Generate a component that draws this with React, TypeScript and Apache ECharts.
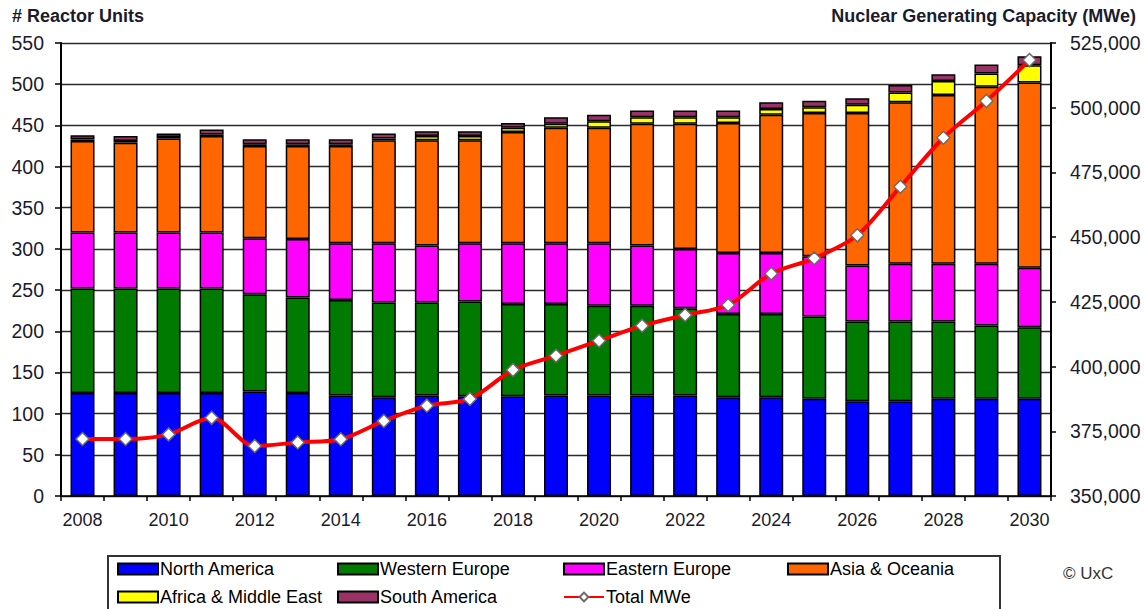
import React, { useEffect, useRef } from "react";
import * as echarts from "echarts";

const years = ["2008","2009","2010","2011","2012","2013","2014","2015","2016","2017","2018","2019","2020","2021","2022","2023","2024","2025","2026","2027","2028","2029","2030"];
const northAmerica = [125,125,125,125,127,125,122,120,122,121,121,122,122,122,122,120,120,118,115,115,118,118,118];
const westernEurope = [127,127,127,127,118,116,116,115,113,115,112,111,109,109,106,101,101,100,97,97,94,89,87];
const easternEurope = [68,68,68,68,68,71,69,72,69,71,74,74,76,73,72,74,74,73,68,70,70,75,72];
const asiaOceania = [111,109,114,117,112,113,118,125,128,125,135,140,140,148,152,158,168,174,185,196,205,215,225];
const africaMiddleEast = [2,2,2,2,2,2,2,2,5,5,5,5,8,8,8,7,7,7,10,12,17,16,21];
const southAmerica = [5,6,4,6,6,6,6,6,6,6,6,8,8,8,8,8,8,8,8,9,8,11,11];
const totalMWe = [372000,372000,373800,380200,369300,370700,371900,379000,384900,387500,398700,404200,410000,415800,419900,423800,435900,441800,450700,469500,488400,502600,518400];

const leftTicks = { min: 0, max: 550, interval: 50 };
const rightTicks = { min: 350000, max: 525000, interval: 25000 };

const FONT = "'Liberation Sans', Arial, sans-serif";
const TXT = "#1b1b2b";

const barSeries = [
  { name: "North America", data: northAmerica, color: "#0000ff" },
  { name: "Western Europe", data: westernEurope, color: "#007a00" },
  { name: "Eastern Europe", data: easternEurope, color: "#ff00ff" },
  { name: "Asia & Oceania", data: asiaOceania, color: "#ff6600" },
  { name: "Africa & Middle East", data: africaMiddleEast, color: "#ffff00" },
  { name: "South America", data: southAmerica, color: "#993366" },
];

const legendSlots: [string, number, number][] = [
  ["North America", 117, 560],
  ["Western Europe", 337, 560],
  ["Eastern Europe", 563, 560],
  ["Asia & Oceania", 787, 560],
  ["Africa & Middle East", 117, 588],
  ["South America", 337, 588],
  ["Total MWe", 563, 588],
];

export default function App() {
  const ref = useRef<HTMLDivElement>(null);
  useEffect(() => {
    if (!ref.current) return;
    const chart = echarts.init(ref.current, null, { renderer: "svg" });
    const option: any = {
      animation: false,
      backgroundColor: "#ffffff",
      textStyle: { fontFamily: FONT },
      grid: { left: 61, right: 94, top: 43, bottom: 113, containLabel: false },
      legend: legendSlots.map(([name, x, y]) => ({
        data: [name],
        left: x,
        top: y,
        padding: 0,
        itemWidth: 40,
        itemHeight: 11,
        itemGap: 4,
        icon: name === "Total MWe" ? undefined : "rect",
        textStyle: { fontSize: 18, color: "#000", fontFamily: FONT, padding: [0, 0, 0, -3] },
        selectedMode: false,
      })),
      xAxis: {
        type: "category",
        data: years,
        boundaryGap: true,
        axisLine: { show: true, lineStyle: { color: "#000", width: 1.5 } },
        axisTick: { show: true, interval: 0, length: 5, lineStyle: { color: "#000", width: 1.5 } },
        axisLabel: { interval: 1, fontSize: 18, color: TXT, margin: 15, fontFamily: FONT },
        splitLine: { show: false },
      },
      yAxis: [
        {
          type: "value",
          position: "left",
          ...leftTicks,
          axisLine: { show: true, lineStyle: { color: "#000", width: 2 } },
          axisTick: { show: true, length: 6, lineStyle: { color: "#000", width: 1.5 } },
          axisLabel: { fontSize: 19.5, color: TXT, margin: 17, fontFamily: FONT },
          splitLine: { show: true, lineStyle: { color: "#2a2a2a", width: 1.3 } },
        },
        {
          type: "value",
          position: "right",
          ...rightTicks,
          axisLine: { show: true, lineStyle: { color: "#000", width: 2 } },
          axisTick: { show: true, length: 5, lineStyle: { color: "#000", width: 1.5 } },
          axisLabel: {
            fontSize: 19.5,
            color: TXT,
            margin: 19,
            fontFamily: FONT,
            formatter: (v: number) => v.toLocaleString("en-US"),
          },
          splitLine: { show: false },
        },
      ],
      series: [
        ...barSeries.map((s) => ({
          name: s.name,
          type: "bar",
          stack: "units",
          data: s.data,
          barWidth: 24,
          itemStyle: { color: s.color, borderColor: "#000", borderWidth: 1.5 },
          emphasis: { disabled: true },
        })),
        {
          name: "Total MWe",
          type: "line",
          yAxisIndex: 1,
          data: totalMWe,
          smooth: 0.3,
          z: 10,
          symbol: "diamond",
          symbolSize: 13,
          lineStyle: { color: "#ff0000", width: 4 },
          itemStyle: { color: "#ffffff", borderColor: "#6a6a6a", borderWidth: 1.5 },
          emphasis: { disabled: true },
        },
      ],
      graphic: [
        {
          type: "text",
          left: 12,
          top: 7,
          style: { text: "# Reactor Units", font: `bold 18px ${FONT}`, fill: TXT },
        },
        {
          type: "text",
          right: 9,
          top: 7,
          style: { text: "Nuclear Generating Capacity (MWe)", font: `bold 18px ${FONT}`, fill: TXT },
        },
        {
          type: "rect",
          shape: { x: 108, y: 556, width: 892, height: 70 },
          style: { fill: "none", stroke: "#333", lineWidth: 2 },
          z: -1,
        },
        {
          type: "text",
          left: 1063,
          top: 565,
          style: { text: "© UxC", font: `17px ${FONT}`, fill: "#333" },
        },
      ],
    };
    chart.setOption(option);
    return () => chart.dispose();
  }, []);
  return (
    <div
      ref={ref}
      style={{ position: "fixed", left: 0, top: 0, width: 1145, height: 609, background: "#fff" }}
    />
  );
}
